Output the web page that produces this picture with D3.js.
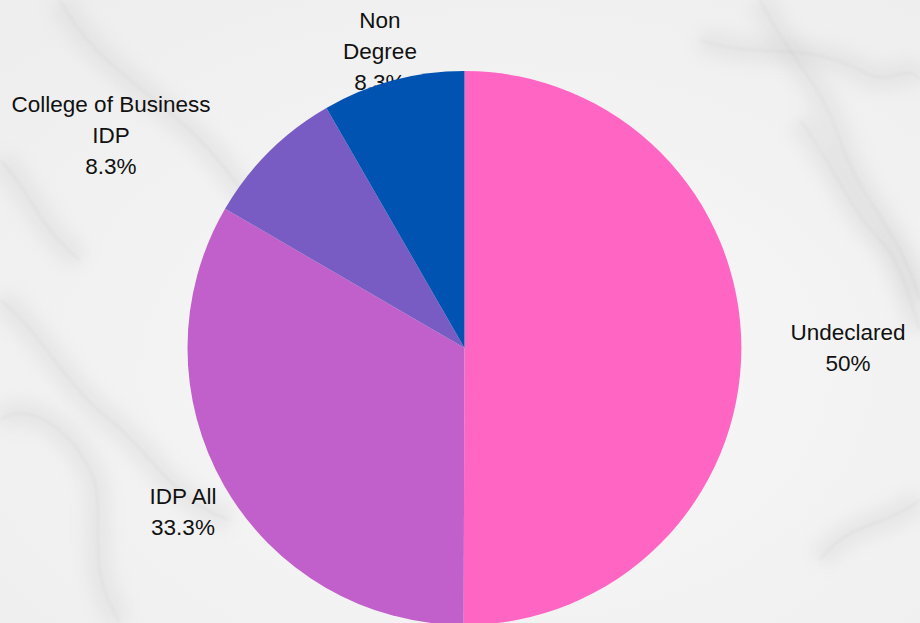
<!DOCTYPE html>
<html><head><meta charset="utf-8">
<script src="https://cdn.jsdelivr.net/npm/d3@7"></script>
<style>html,body{margin:0;padding:0;overflow:hidden;background:#f4f4f4}</style>
</head><body>
<svg id="chart" width="920" height="623"></svg>
<script>
const categories = ["Undeclared", "IDP All", "College of Business IDP", "Non Degree"];
const values = [50, 33.3, 8.3, 8.3];
const valueLabels = ["50%", "33.3%", "8.3%", "8.3%"];
const labelLines = [["Undeclared"], ["IDP All"], ["College of Business", "IDP"], ["Non", "Degree"]];
const colors = ["#FF66C4", "#C160CA", "#785CC3", "#0053B0"];

const W = 920, H = 623;
const svg = d3.select("#chart");
const cx = 464.5, cy = 348, R = 277;

// marble-like background
const defs = svg.append("defs");
const blur = defs.append("filter").attr("id","blur").attr("x","-50%").attr("y","-50%").attr("width","200%").attr("height","200%");
blur.append("feGaussianBlur").attr("stdDeviation", 8);
const blur2 = defs.append("filter").attr("id","blur2").attr("x","-50%").attr("y","-50%").attr("width","200%").attr("height","200%");
blur2.append("feGaussianBlur").attr("stdDeviation", 1.5);
const grad = defs.append("radialGradient").attr("id","bgg").attr("cx","55%").attr("cy","60%").attr("r","75%");
grad.append("stop").attr("offset","0%").attr("stop-color","#f8f8f8");
grad.append("stop").attr("offset","100%").attr("stop-color","#eeeeee");
svg.append("rect").attr("width",W).attr("height",H).attr("fill","url(#bgg)");
const bg = svg.append("g");
const veins = [
  "M0,300 C40,330 60,380 110,420 C150,450 170,500 230,520",
  "M0,420 C30,400 70,430 90,470 C110,510 80,560 120,623",
  "M60,0 C90,60 150,90 200,140 C240,180 260,230 320,260",
  "M760,0 C790,60 820,80 840,140 C860,200 900,230 920,300",
  "M800,120 C830,160 850,210 880,240 C900,260 910,300 920,330",
  "M700,40 C760,60 800,40 860,70 C890,90 905,60 920,80",
  "M820,560 C850,520 880,530 920,500",
  "M0,160 C30,190 40,230 80,260"
];
bg.selectAll("path.soft").data(veins).join("path")
  .attr("d", d=>d).attr("fill","none").attr("stroke","#cfcfcf")
  .attr("stroke-width", 26).attr("opacity",0.3).attr("filter","url(#blur)");
bg.selectAll("path.thin").data(veins).join("path")
  .attr("d", d=>d).attr("fill","none").attr("stroke","#bdbdbd")
  .attr("stroke-width", 1.2).attr("opacity",0.3).attr("filter","url(#blur2)");

// labels (drawn beneath pie, as in reference)
const labelAnchors = [[848, 332], [183, 496], [111, 104], [380, 20]];
const lineH = 31;
const lg = svg.append("g").attr("font-family","'Liberation Sans', Arial, sans-serif")
  .attr("font-size", 22.5).attr("fill","#111").attr("text-anchor","middle");
categories.forEach((c,i)=>{
  const lines = labelLines[i].concat([valueLabels[i]]);
  const t = lg.append("text").attr("x", labelAnchors[i][0]).attr("y", labelAnchors[i][1]);
  lines.forEach((ln,j)=>{
    t.append("tspan").attr("x", labelAnchors[i][0]).attr("dy", j===0 ? "0.35em" : lineH).text(ln);
  });
});

// pie
const pie = d3.pie().sort(null).value(d=>d);
const arc = d3.arc().innerRadius(0).outerRadius(R);
svg.append("g").attr("transform",`translate(${cx},${cy})`)
  .selectAll("path").data(pie(values)).join("path")
  .attr("d", arc).attr("fill",(d,i)=>colors[i]);
</script>
</body></html>
